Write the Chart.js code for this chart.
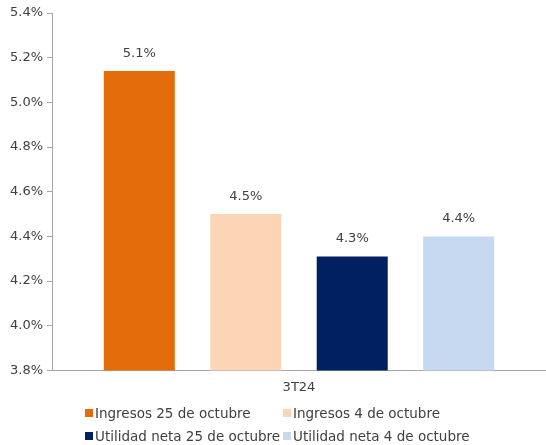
<!DOCTYPE html>
<html>
<head>
<meta charset="utf-8">
<script src="https://cdn.jsdelivr.net/npm/chart.js@4/dist/chart.umd.min.js"></script>
<style>
  html, body { margin: 0; padding: 0; background: #fff; }
  #wrap { position: relative; width: 546px; height: 445px; }
  #legend { position: absolute; left: 85px; top: 403px; display: grid; grid-template-columns: 198px 210px; row-gap: 4px;
    font-family: "DejaVu Sans", sans-serif; font-size: 13.5px; color: #404040; }
  #legend .item { display: flex; align-items: center; white-space: nowrap; height: 19px; }
  #legend .sw { width: 8px; height: 8px; margin-right: 2px; flex: none; }
</style>
</head>
<body>
<div id="wrap">
  <canvas id="c" width="546" height="445"></canvas>
  <div id="legend"></div>
</div>
<script>
const categories = ["3T24"];
const seriesNames = ["Ingresos 25 de octubre", "Ingresos 4 de octubre", "Utilidad neta 25 de octubre", "Utilidad neta 4 de octubre"];
const seriesValues = [5.14, 4.50, 4.31, 4.40];
const seriesLabels = ["5.1%", "4.5%", "4.3%", "4.4%"];
const seriesColors = ["#E46C0A", "#FBD5B5", "#002060", "#C6D9F1"];
const yMin = 3.8, yMax = 5.4, yStep = 0.2;

const FONT = '"DejaVu Sans", sans-serif';
const TXT = '#404040';

const datasets = seriesNames.map((n, i) => ({
  label: n,
  data: [seriesValues[i]],
  backgroundColor: seriesColors[i],
  borderWidth: 0,
  categoryPercentage: 0.862,
  barPercentage: 0.667
}));

const valueLabels = {
  id: 'valueLabels',
  afterDatasetsDraw(chart) {
    const ctx = chart.ctx;
    ctx.save();
    ctx.font = '13px ' + FONT;
    ctx.fillStyle = TXT;
    ctx.textAlign = 'center';
    ctx.textBaseline = 'alphabetic';
    chart.data.datasets.forEach((ds, i) => {
      const meta = chart.getDatasetMeta(i);
      meta.data.forEach(bar => {
        ctx.fillText(seriesLabels[i], bar.x, bar.y - 14);
      });
    });
    ctx.restore();
  }
};

new Chart(document.getElementById('c'), {
  type: 'bar',
  data: { labels: categories, datasets },
  plugins: [valueLabels],
  options: {
    responsive: false,
    animation: false,
    layout: { padding: { top: 13, right: 0, bottom: 41, left: 0 } },
    plugins: { legend: { display: false }, tooltip: { enabled: false } },
    scales: {
      x: {
        grid: { display: false, drawTicks: false },
        border: { display: true, color: '#A6A6A6', width: 1 },
        ticks: { color: TXT, font: { family: FONT, size: 13 }, padding: 9 }
      },
      y: {
        min: yMin, max: yMax,
        afterFit(scale) { scale.width = 52; },
        grid: { drawOnChartArea: false, drawTicks: true, tickLength: 5, color: '#A6A6A6' },
        border: { display: true, color: '#A6A6A6', width: 1 },
        ticks: {
          stepSize: yStep, padding: 4, color: TXT, font: { family: FONT, size: 13 },
          callback: v => v.toFixed(1) + '%'
        }
      }
    }
  }
});

const lg = document.getElementById('legend');
seriesNames.forEach((n, i) => {
  const d = document.createElement('div');
  d.className = 'item';
  d.innerHTML = '<span class="sw" style="background:' + seriesColors[i] + '"></span><span>' + n + '</span>';
  lg.appendChild(d);
});
</script>
</body>
</html>
